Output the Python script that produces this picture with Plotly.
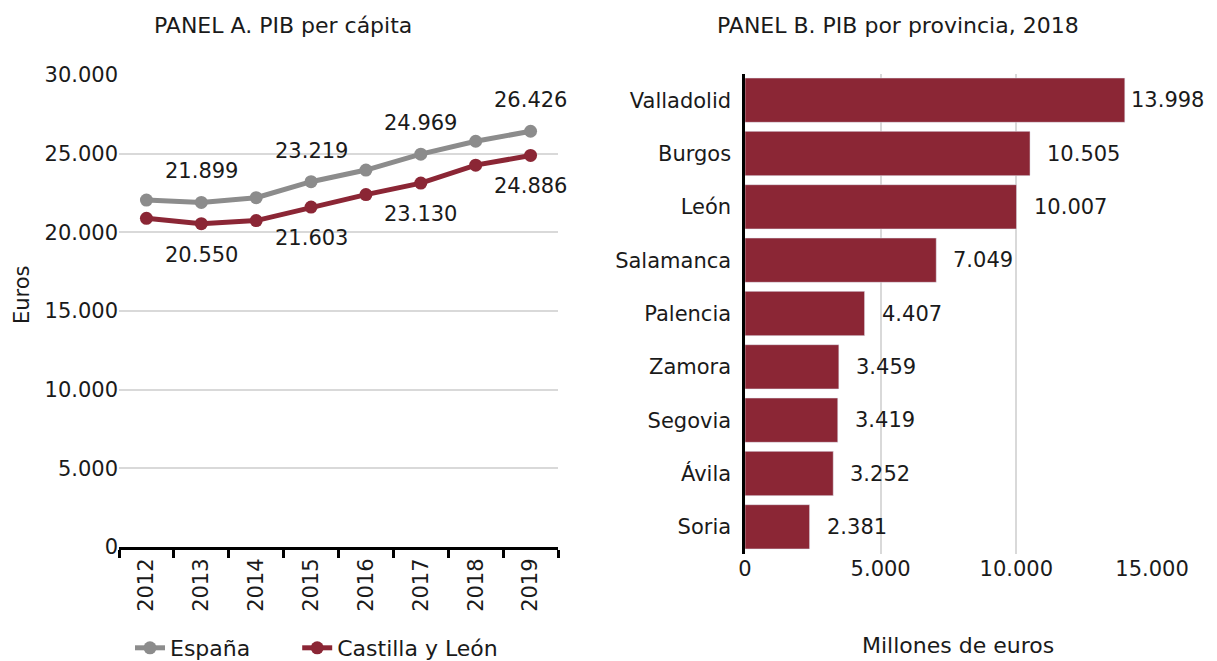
import plotly.graph_objects as go

# ---------------- data ----------------
years = ["2012", "2013", "2014", "2015", "2016", "2017", "2018", "2019"]
espana = [22050, 21899, 22200, 23219, 23960, 24969, 25790, 26426]
castilla_leon = [20890, 20550, 20745, 21603, 22400, 23130, 24270, 24886]
labeled_years = ["2013", "2015", "2017", "2019"]
series_names = ["España", "Castilla y León"]

provincias = ["Valladolid", "Burgos", "León", "Salamanca", "Palencia",
              "Zamora", "Segovia", "Ávila", "Soria"]
pib_provincia = [13998, 10505, 10007, 7049, 4407, 3459, 3419, 3252, 2381]

# ---------------- style ----------------
FONT = "DejaVu Sans"
TXT = "#1a1a1a"
GRAY = "#8c8c8c"
MAROON = "#8b2635"
GRID = "#d9d9d9"
OFF = 8                      # default page body margin
FW, FH = 1217 - OFF, 661 - OFF
FS = 21
NBSP = "\u00a0"


def px(x):
    return (x - OFF) / FW


def py(y):
    return 1 - (y - OFF) / FH


def fmt(v):
    return f"{v:,}".replace(",", ".")


fig = go.Figure()

fig.add_trace(go.Scatter(
    x=years, y=espana, name=series_names[0] + NBSP * 6, mode="lines+markers",
    line=dict(color=GRAY, width=5), marker=dict(size=13, color=GRAY),
    xaxis="x", yaxis="y"))
fig.add_trace(go.Scatter(
    x=years, y=castilla_leon, name=series_names[1], mode="lines+markers",
    line=dict(color=MAROON, width=5), marker=dict(size=13, color=MAROON),
    xaxis="x", yaxis="y"))

fig.add_trace(go.Bar(
    x=pib_provincia, y=provincias, orientation="h", marker_color=MAROON,
    showlegend=False, xaxis="x2", yaxis="y2"))

annotations = []
for i, (yr, v) in enumerate(zip(years, espana)):
    if yr in labeled_years:
        annotations.append(dict(x=i, y=v, xref="x", yref="y", text=fmt(v),
                                showarrow=False, yshift=31,
                                xanchor="center", yanchor="middle",
                                font=dict(size=FS, color=TXT, family=FONT)))
for i, (yr, v) in enumerate(zip(years, castilla_leon)):
    if yr in labeled_years:
        annotations.append(dict(x=i, y=v, xref="x", yref="y", text=fmt(v),
                                showarrow=False, yshift=-31,
                                xanchor="center", yanchor="middle",
                                font=dict(size=FS, color=TXT, family=FONT)))
for i, (p, v) in enumerate(zip(provincias, pib_provincia)):
    annotations.append(dict(x=v, y=i, xref="x2", yref="y2", text=fmt(v),
                            showarrow=False, xanchor="left", yanchor="middle",
                            xshift=4 if i == 0 else 15,
                            font=dict(size=FS, color=TXT, family=FONT)))

annotations += [
    dict(text="PANEL A. PIB per cápita", x=px(283), y=py(25),
         xref="paper", yref="paper", showarrow=False,
         xanchor="center", yanchor="middle",
         font=dict(size=22, color=TXT, family=FONT)),
    dict(text="PANEL B. PIB por provincia, 2018", x=px(898), y=py(25),
         xref="paper", yref="paper", showarrow=False,
         xanchor="center", yanchor="middle",
         font=dict(size=22, color=TXT, family=FONT)),
    dict(text="Euros", x=px(22), y=py(295), textangle=-90,
         xref="paper", yref="paper", showarrow=False,
         xanchor="center", yanchor="middle",
         font=dict(size=FS, color=TXT, family=FONT)),
    dict(text="Millones de euros", x=px(958), y=py(645),
         xref="paper", yref="paper", showarrow=False,
         xanchor="center", yanchor="middle",
         font=dict(size=22, color=TXT, family=FONT)),
]

fig.update_layout(
    width=FW, height=FH,
    margin=dict(l=0, r=0, t=0, b=0, autoexpand=False),
    paper_bgcolor="white", plot_bgcolor="white",
    separators=",.",
    font=dict(family=FONT, size=FS, color=TXT),
    xaxis=dict(domain=[px(119), px(558)], type="category",
               range=[-0.5, len(years) - 0.5],
               showline=True, linecolor="black", linewidth=3,
               ticks="outside", tickson="boundaries", ticklen=8,
               tickwidth=3, tickcolor="black", tickangle=-90,
               showgrid=False, automargin=False,
               tickfont=dict(size=FS, color=TXT)),
    yaxis=dict(domain=[py(547), py(75)], range=[0, 30000],
               dtick=5000, tickformat=",d", showgrid=True, gridcolor=GRID,
               gridwidth=2, zeroline=False, showline=False, ticks="",
               automargin=False,
               tickfont=dict(size=FS, color=TXT)),
    xaxis2=dict(domain=[px(745), px(1152)], range=[0, 15000], dtick=5000,
                tickformat=",d", showgrid=True, gridcolor=GRID, gridwidth=2,
                zeroline=False, showline=False, ticks="", anchor="y2",
                automargin=False,
                tickfont=dict(size=FS, color=TXT)),
    yaxis2=dict(domain=[py(553.5), py(73.5)], autorange="reversed",
                anchor="x2", showline=True, linecolor="black", linewidth=3,
                ticks="", showgrid=False, ticksuffix=" ", automargin=False,
                tickfont=dict(size=FS, color=TXT)),
    bargap=0.17,
    legend=dict(orientation="h", x=px(130), xanchor="left",
                y=py(648), yanchor="middle",
                font=dict(size=FS + 1, color=TXT, family=FONT),
                bgcolor="rgba(0,0,0,0)"),
    annotations=annotations,
)

fig.write_html("out.html")
